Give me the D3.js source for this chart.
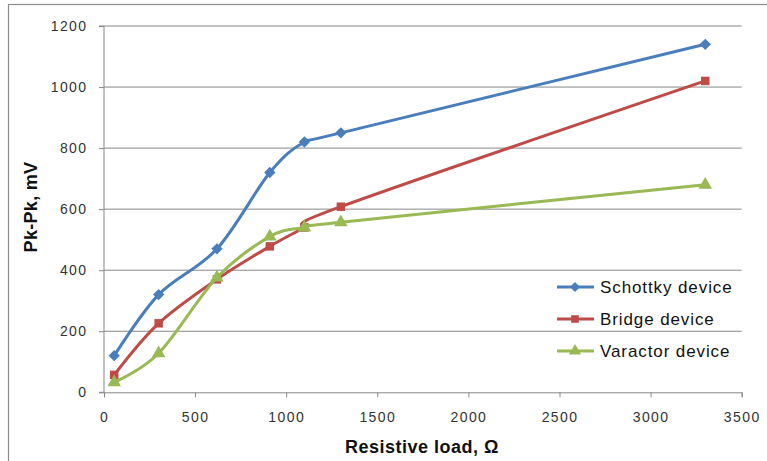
<!DOCTYPE html>
<html>
<head>
<meta charset="utf-8">
<script src="https://cdn.jsdelivr.net/npm/d3@7/dist/d3.min.js"></script>
<style>
html,body{margin:0;padding:0;background:#fff;}
svg{display:block;}
</style>
</head>
<body>
<svg id="chart" width="767" height="461"></svg>
<script>
const loads = [56, 300, 620, 910, 1100, 1300, 3300];
const schottky = [120, 320, 470, 720, 820, 850, 1140];
const bridge = [57, 226, 370, 478, 540, 608, 1020];
const varactor = [33, 128, 376, 510, 540, 557, 680];
const seriesNames = ["Schottky device", "Bridge device", "Varactor device"];
const xTicks = [0, 500, 1000, 1500, 2000, 2500, 3000, 3500];
const yTicks = [0, 200, 400, 600, 800, 1000, 1200];

const svg = d3.select("#chart");
const W = 767, H = 461;
const m = {left: 104, right: 25.3, top: 26, bottom: 68.7};
const x = d3.scaleLinear().domain([0, 3500]).range([m.left, W - m.right]);
const y = d3.scaleLinear().domain([0, 1200]).range([H - m.bottom, m.top]);

// outer border
svg.append("rect").attr("x", 8.5).attr("y", 4.5).attr("width", 800).attr("height", 500)
  .attr("fill", "none").attr("stroke", "#8c8c8c").attr("stroke-width", 1.2);

// gridlines
svg.append("g").selectAll("line").data(yTicks.filter(d => d > 0)).join("line")
  .attr("x1", x(0)).attr("x2", x(3500)).attr("y1", d => y(d)).attr("y2", d => y(d))
  .attr("stroke", "#878787").attr("stroke-width", 1);

// axes
const font = "'Liberation Sans', Arial, sans-serif";
const xAxis = svg.append("g").attr("transform", `translate(0,${y(0)})`)
  .call(d3.axisBottom(x).tickValues(xTicks).tickSize(5).tickPadding(15).tickFormat(d3.format("d")));
const yAxis = svg.append("g").attr("transform", `translate(${x(0)},0)`)
  .call(d3.axisLeft(y).tickValues(yTicks).tickSize(5).tickPadding(11.5).tickFormat(d3.format("d")));
[xAxis, yAxis].forEach(a => {
  a.select(".domain").attr("stroke", "#878787").attr("stroke-width", 1);
  a.selectAll(".tick line").attr("stroke", "#878787");
  a.selectAll("text").attr("font-family", font).attr("font-size", 14).attr("letter-spacing", 1.4).attr("fill", "#333");
});
yAxis.select(".domain").attr("d", `M-5,${y(1200)}H0V${y(0)}H-5`);

// titles
svg.append("text").attr("x", 422).attr("y", 453).attr("text-anchor", "middle")
  .attr("font-family", font).attr("font-weight", "bold").attr("font-size", 18).attr("letter-spacing", 0.5).attr("fill", "#111")
  .text("Resistive load, Ω");
svg.append("text").attr("transform", "translate(37,207) rotate(-90)").attr("text-anchor", "middle")
  .attr("font-family", font).attr("font-weight", "bold").attr("font-size", 18).attr("letter-spacing", 0.3).attr("fill", "#111")
  .text("Pk-Pk, mV");

const colors = ["#4A7EBB", "#BE4B48", "#98B954"];
const diamond = {draw(ctx, size) { const r = Math.sqrt(size / 2); ctx.moveTo(0, -r); ctx.lineTo(r, 0); ctx.lineTo(0, r); ctx.lineTo(-r, 0); ctx.closePath(); }};
const symbols = [diamond, d3.symbolSquare, d3.symbolTriangle];
const symSizes = [64, 72, 80];
const data = [schottky, bridge, varactor];
const line = d3.line().x(d => x(d[0])).y(d => y(d[1])).curve(d3.curveCatmullRom.alpha(0));

data.forEach((vals, i) => {
  const pts = loads.map((l, j) => [l, vals[j]]);
  svg.append("path").datum(pts).attr("d", line).attr("fill", "none")
    .attr("stroke", colors[i]).attr("stroke-width", 3).attr("stroke-linejoin", "round");
  svg.append("g").selectAll("path").data(pts).join("path")
    .attr("transform", d => `translate(${x(d[0])},${y(d[1])})`)
    .attr("d", d3.symbol().type(symbols[i]).size(symSizes[i]))
    .attr("fill", colors[i]);
});

// legend
const legY = [287, 319, 351];
seriesNames.forEach((n, i) => {
  const g = svg.append("g").attr("transform", `translate(0,${legY[i]})`);
  g.append("line").attr("x1", 557).attr("x2", 594).attr("y1", 0).attr("y2", 0)
    .attr("stroke", colors[i]).attr("stroke-width", 3);
  g.append("path").attr("transform", "translate(575,0)")
    .attr("d", d3.symbol().type(symbols[i]).size(symSizes[i] * 0.8)).attr("fill", colors[i]);
  g.append("text").attr("x", 600).attr("y", 6).attr("font-family", font)
    .attr("font-size", 17).attr("letter-spacing", 0.9).attr("fill", "#111").text(n);
});
</script>
</body>
</html>
